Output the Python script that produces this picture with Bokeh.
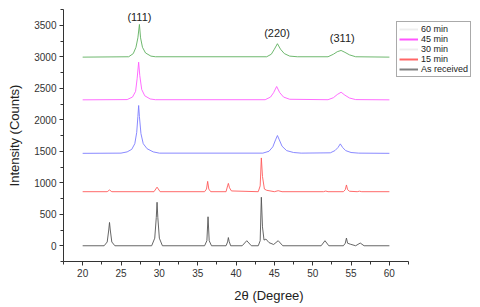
from bokeh.plotting import figure
from bokeh.models import Legend, LegendItem, SingleIntervalTicker
from bokeh.core.properties import value
from bokeh.embed import file_html
from bokeh.resources import INLINE

# ---- data (2θ in degrees, intensity in counts) ----
as_received_x = [20, 22.8, 23.2, 23.4, 23.5, 23.6, 23.8, 24.2, 29.0, 29.4, 29.6, 29.7, 29.8, 30.0, 30.4,
                 35.9, 36.2, 36.35, 36.5, 36.8, 38.7, 38.9, 39.0, 39.1, 39.3, 40.8, 41.4, 42.0, 42.9,
                 43.15, 43.3, 43.45, 43.65, 43.9, 44.3, 44.9, 45.5, 46.1, 51.1, 51.6, 52.1, 54.0, 54.25,
                 54.4, 54.55, 54.9, 55.6, 56.2, 56.7, 60]
as_received_y = [0, 0, 60, 250, 370, 250, 60, 0, 0, 120, 450, 690, 450, 120, 0,
                 0, 80, 460, 80, 0, 0, 60, 130, 70, 0, 0, 80, 0, 0,
                 80, 770, 300, 90, 106, 50, 20, 80, 0, 0, 80, 0, 0, 40,
                 122, 40, 25, 0, 43, 0, 0]

min15_x = [20, 23.2, 23.5, 23.8, 29.3, 29.7, 30.1, 35.9, 36.15, 36.3, 36.45, 36.7, 38.7, 38.9, 39.0,
           39.15, 39.4, 42.9, 43.15, 43.3, 43.45, 43.7, 44.0, 45.0, 45.5, 46.0, 51.4, 51.7, 52.0,
           54.0, 54.25, 54.4, 54.55, 54.8, 55.8, 56.1, 56.4, 60]
min15_y = [858, 858, 885, 858, 858, 930, 858, 858, 900, 1022, 900, 858, 858, 950, 990,
           920, 870, 858, 950, 1394, 1100, 900, 880, 858, 874, 858, 858, 868, 858,
           858, 890, 965, 890, 865, 858, 866, 858, 858]

min30_x = [20, 25.0, 25.8, 26.4, 26.8, 27.05, 27.2, 27.3, 27.4, 27.6, 27.9, 28.4, 29.2, 30.0, 43.5,
           44.3, 44.8, 45.15, 45.4, 45.65, 46.0, 46.6, 47.5, 48.5, 52.3, 52.9, 53.3, 53.6, 53.9,
           54.3, 55.0, 56.0, 60]
min30_y = [1467, 1470, 1490, 1530, 1620, 1800, 2050, 2226, 2050, 1780, 1620, 1540, 1490, 1470, 1470,
           1500, 1570, 1680, 1750, 1680, 1580, 1510, 1480, 1470, 1475, 1510, 1560, 1617, 1560,
           1510, 1480, 1470, 1467]

min45_x = [20, 25.8, 26.5, 26.9, 27.1, 27.3, 27.45, 27.7, 28.1, 28.8, 29.5, 43.8, 44.5, 44.9, 45.3,
           45.7, 46.2, 47.0, 52.0, 52.7, 53.2, 53.7, 54.2, 54.8, 55.6, 60]
min45_y = [2316, 2320, 2360, 2450, 2650, 2914, 2700, 2480, 2380, 2330, 2318, 2318, 2360, 2430, 2528,
           2430, 2360, 2325, 2318, 2350, 2400, 2437, 2390, 2345, 2320, 2316]

min60_x = [20, 26.0, 26.6, 26.95, 27.2, 27.4, 27.55, 27.8, 28.2, 28.9, 29.5, 44.0, 44.6, 45.0, 45.4,
           45.8, 46.3, 47.0, 48.0, 52.0, 52.7, 53.2, 53.7, 54.2, 54.8, 55.6, 60]
min60_y = [2994, 3000, 3050, 3150, 3300, 3513, 3300, 3150, 3060, 3010, 3000, 3000, 3040, 3120, 3207,
           3120, 3050, 3010, 3000, 3000, 3040, 3080, 3100, 3070, 3030, 3000, 2994]

peak_labels = ["(111)", "(220)", "(311)"]
peak_label_x = [27.4, 45.35, 53.85]
peak_label_y = [3625, 3370, 3290]

legend_labels = ["60 min", "45 min", "30 min", "15 min", "As received"]
legend_colors = ["#eeeeee", "#ff55ff", "#eeeeee", "#ff6666", "#808080"]

# ---- figure ----
# the frame is widened to the right to host the legend; the x axis is bounded at 17.5..62.5
p = figure(frame_width=411, frame_height=252, x_range=(17.5, 71.1), y_range=(-250, 3750),
           output_backend="svg", toolbar_location=None,
           min_border_left=63, min_border_top=9, min_border_right=1, min_border_bottom=40)
p.outline_line_color = None
p.grid.visible = False
p.background_fill_color = "white"

series = [
    (as_received_x, as_received_y, "#555555"),
    (min15_x, min15_y, "#ff5a5a"),
    (min30_x, min30_y, "#7c7cff"),
    (min45_x, min45_y, "#ff5cff"),
    (min60_x, min60_y, "#5fb05f"),
]
for xs, ys, c in series:
    p.line(x=xs, y=ys, line_color=c, line_width=0.9)

p.text(x=peak_label_x, y=peak_label_y, text=peak_labels, text_align="center",
       text_baseline="middle", text_font=value("Liberation Sans"), text_font_size="11px",
       text_color="#222222")

# legend swatches: renderers with a single non-drawable (NaN) sample so only the legend glyph shows
nan = float("nan")
items = []
for lab, col in zip(legend_labels, legend_colors):
    r = p.line(x=[nan], y=[nan], line_color=col, line_width=2)
    items.append(LegendItem(label=lab, renderers=[r]))
leg = Legend(items=items, location=(333, 184), border_line_color="#555555", border_line_width=1,
             background_fill_color="white", background_fill_alpha=1.0,
             padding=2, spacing=0, margin=0, glyph_width=19, glyph_height=10,
             label_height=10, label_standoff=3, label_text_font_size="9px",
             label_text_font="Liberation Sans", label_text_color="#222222")
p.add_layout(leg, "center")

for ax in (p.xaxis[0], p.yaxis[0]):
    ax.axis_line_color = "#333333"
    ax.major_tick_line_color = "#333333"
    ax.minor_tick_line_color = "#333333"
    ax.major_tick_out = 4
    ax.major_tick_in = 0
    ax.minor_tick_out = 3
    ax.minor_tick_in = 0
    ax.major_label_text_font = "Liberation Sans"
    ax.major_label_text_font_size = "10px"
    ax.major_label_text_color = "#333333"
    ax.major_label_standoff = 3
    ax.axis_label_text_font = "Liberation Sans"
    ax.axis_label_text_font_style = "normal"
    ax.axis_label_text_color = "#222222"
    ax.axis_label_text_font_size = "13px"

p.xaxis.bounds = (17.5, 62.5)
p.xaxis.ticker = SingleIntervalTicker(interval=5, num_minor_ticks=2)
p.yaxis.ticker = SingleIntervalTicker(interval=500, num_minor_ticks=2)
p.xaxis.axis_label = "2θ (Degree)"
p.yaxis.axis_label = "Intensity (Counts)"
p.xaxis.axis_label_standoff = 8
p.yaxis.axis_label_standoff = 9

open("out.html", "w").write(file_html(p, INLINE))
